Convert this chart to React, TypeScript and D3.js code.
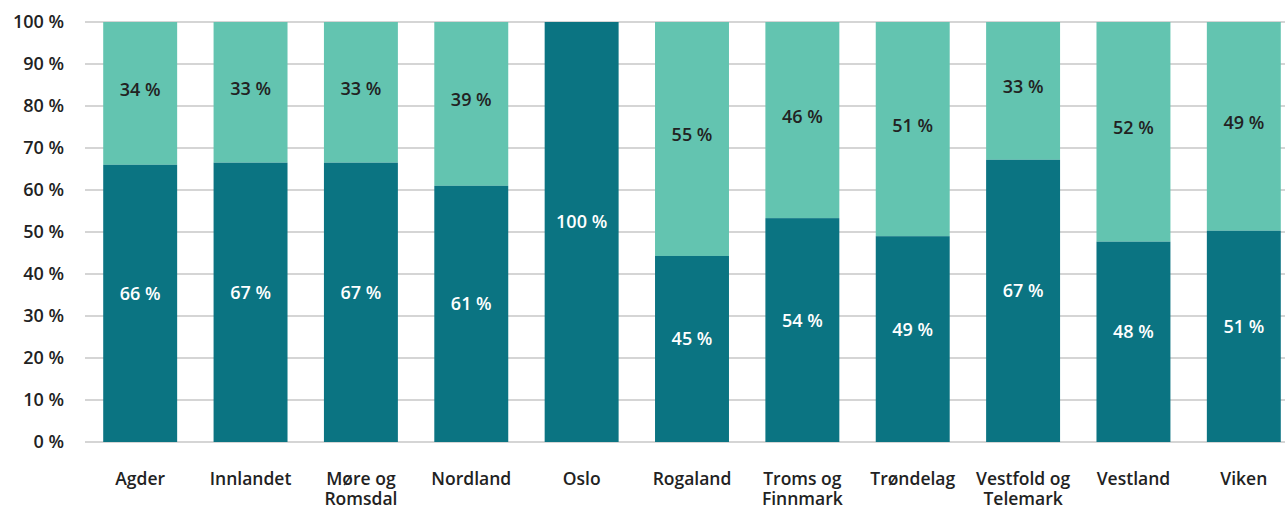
import React from "react";
import * as d3 from "d3";

const categories: string[][] = [
  ["Agder"],
  ["Innlandet"],
  ["Møre og", "Romsdal"],
  ["Nordland"],
  ["Oslo"],
  ["Rogaland"],
  ["Troms og", "Finnmark"],
  ["Trøndelag"],
  ["Vestfold og", "Telemark"],
  ["Vestland"],
  ["Viken"],
];
const darkValues = [66.0, 66.5, 66.5, 61.0, 100, 44.3, 53.3, 49.0, 67.2, 47.7, 50.3];
const darkLabels = [66, 67, 67, 61, 100, 45, 54, 49, 67, 48, 51];
const lightLabels = [34, 33, 33, 39, 0, 55, 46, 51, 33, 52, 49];
const yTicks = [0, 10, 20, 30, 40, 50, 60, 70, 80, 90, 100];

const W = 1285;
const H = 507;
const DARK = "#0b7482";
const LIGHT = "#63c4b0";
const FONT = "'Open Sans', 'Noto Sans', sans-serif";
const NUM_SIZE = 18;
const CAT_SIZE = 17.5;
const WEIGHT = 600;

export default function App() {
  const x = d3
    .scaleBand<number>()
    .domain(categories.map((_, i) => i))
    .range([85, 1299])
    .paddingInner(0.33)
    .paddingOuter(0.165);
  const y = d3.scaleLinear().domain([0, 100]).range([442, 22]);
  const bw = x.bandwidth();

  return (
    <svg
      width={W}
      height={H}
      style={{ position: "absolute", left: 0, top: 0, display: "block" }}
      fontFamily={FONT}
    >
      <rect x={0} y={0} width={W} height={H} fill="#fff" />
      {yTicks.map((t) => (
        <g key={t}>
          <line x1={85} x2={1285} y1={y(t)} y2={y(t)} stroke="#ababab" strokeWidth={1.2} />
          <text
            x={64}
            y={y(t)}
            dy="0.36em"
            textAnchor="end"
            fontSize={NUM_SIZE}
            fontWeight={WEIGHT}
            fill="#222"
          >
            {`${t} %`}
          </text>
        </g>
      ))}
      {categories.map((c, i) => {
        const x0 = x(i) as number;
        const dv = darkValues[i];
        const lv = 100 - dv;
        const cx = x0 + bw / 2;
        const darkMid = (y(0) + y(dv)) / 2;
        const lightMid = (y(dv) + y(100)) / 2;
        return (
          <g key={i}>
            {lv > 0 && (
              <rect x={x0} y={y(100)} width={bw} height={y(dv) - y(100)} fill={LIGHT} />
            )}
            <rect x={x0} y={y(dv)} width={bw} height={y(0) - y(dv)} fill={DARK} />
            <text
              x={cx}
              y={darkMid - 10}
              dy="0.36em"
              textAnchor="middle"
              fontSize={NUM_SIZE}
              fontWeight={WEIGHT}
              fill="#fff"
            >
              {`${darkLabels[i]} %`}
            </text>
            {lightLabels[i] > 0 && (
              <text
                x={cx}
                y={lightMid - 4}
                dy="0.36em"
                textAnchor="middle"
                fontSize={NUM_SIZE}
                fontWeight={WEIGHT}
                fill="#222"
              >
                {`${lightLabels[i]} %`}
              </text>
            )}
            <text textAnchor="middle" fontSize={CAT_SIZE} fontWeight={WEIGHT} fill="#222">
              {c.map((line, k) => (
                <tspan key={k} x={cx} y={485 + k * 20}>
                  {line}
                </tspan>
              ))}
            </text>
          </g>
        );
      })}
    </svg>
  );
}
